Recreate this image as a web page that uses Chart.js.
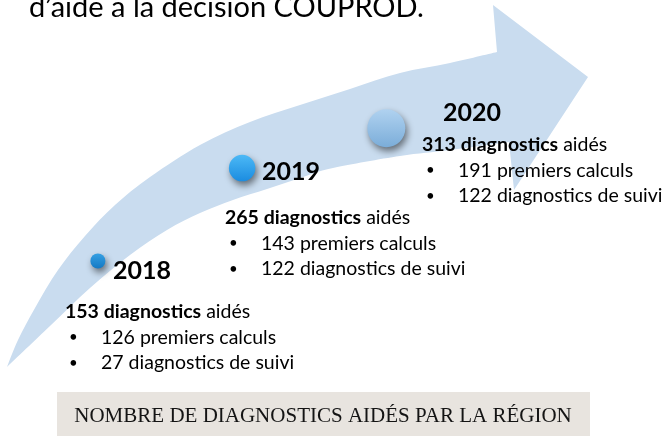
<!DOCTYPE html>
<html lang="fr">
<head>
<meta charset="utf-8">
<title>Nombre de diagnostics aidés par la région</title>
<script src="https://cdn.jsdelivr.net/npm/chart.js@4.4.1/dist/chart.umd.min.js"></script>
<style>
  html, body { margin: 0; padding: 0; background: #ffffff; }
  #wrap { position: relative; width: 663px; height: 436px; }
</style>
</head>
<body>
<div id="wrap"><canvas id="timeline"></canvas></div>
<script>
// data
const years = [2018, 2019, 2020];
const totalDiagnostics = [153, 265, 313];
const premiersCalculs = [126, 143, 191];
const diagnosticsSuivi = [27, 122, 122];

const titleText = 'd’aide à la décision COUPROD.';
const bannerText = 'NOMBRE DE DIAGNOSTICS AIDÉS PAR LA RÉGION';

// layout (pixels) for the annotations
const yearLabelPos = [[113, 271], [262, 172], [443, 113]];
const blockPos = [[65, 312], [225, 218], [422, 145]];
const lineGap = 25.5;

const dotStops = [
  ['#35a0e3', '#1479c4'],
  ['#4cb9f6', '#1b8ce0'],
  ['#b0d2f0', '#7badd9']
];

const sansFont = '"Lato", "Open Sans", sans-serif';

// background curved arrow, drawn as decoration behind the points
const arrowOuter = [[7,367],[18,340],[35,308],[58,270],[85,236],[115,205],[150,177],[200,145],[250,122],[300,105],[350,89],[400,73],[450,63],[497,52]];
const arrowHead = [[493,5],[588,77],[514,190],[509,142]];
const arrowInner = [[509,142],[450,150],[400,156],[333,168],[300,178],[267,189],[233,200],[200,213],[167,230],[130,255],[90,288],[50,326],[7,367]];

function smoothThrough(ctx, pts) {
  for (let i = 0; i < pts.length - 1; i++) {
    const p0 = pts[i - 1] || pts[i];
    const p1 = pts[i];
    const p2 = pts[i + 1];
    const p3 = pts[i + 2] || p2;
    ctx.bezierCurveTo(
      p1[0] + (p2[0] - p0[0]) / 6, p1[1] + (p2[1] - p0[1]) / 6,
      p2[0] - (p3[0] - p1[0]) / 6, p2[1] - (p3[1] - p1[1]) / 6,
      p2[0], p2[1]);
  }
}

function dotRadius(i) {
  return 7.5 + 5.75 * i;
}

function dotFill(c) {
  const stops = dotStops[c.dataIndex] || dotStops[0];
  const chart = c.chart;
  const yScale = chart.scales && chart.scales.y;
  if (c.type !== 'data' || !yScale || !c.raw) return stops[1];
  const y = yScale.getPixelForValue(c.raw.y);
  if (!isFinite(y)) return stops[1];
  const r = dotRadius(c.dataIndex);
  const g = chart.ctx.createLinearGradient(0, y - r, 0, y + r);
  g.addColorStop(0, stops[0]);
  g.addColorStop(1, stops[1]);
  return g;
}

const arrowPlugin = {
  id: 'arrowBackground',
  beforeDatasetsDraw(chart) {
    const ctx = chart.ctx;
    ctx.save();
    ctx.fillStyle = '#c9dcef';
    ctx.beginPath();
    ctx.moveTo(arrowOuter[0][0], arrowOuter[0][1]);
    smoothThrough(ctx, arrowOuter);
    arrowHead.forEach(p => ctx.lineTo(p[0], p[1]));
    smoothThrough(ctx, arrowInner);
    ctx.closePath();
    ctx.fill();
    ctx.restore();
    // soft drop shadow for the dots
    ctx.save();
    ctx.shadowColor = 'rgba(0, 0, 0, 0.5)';
    ctx.shadowBlur = 7;
    ctx.shadowOffsetX = 2;
    ctx.shadowOffsetY = 4;
  },
  afterDatasetsDraw(chart) {
    chart.ctx.restore();
  }
};

function mixedLine(ctx, x, y, boldPart, rest, size) {
  ctx.font = 'bold ' + size + 'px ' + sansFont;
  ctx.fillText(boldPart, x, y);
  const w = ctx.measureText(boldPart).width;
  ctx.font = size + 'px ' + sansFont;
  ctx.fillText(rest, x + w, y);
}

const textPlugin = {
  id: 'timelineText',
  afterDraw(chart) {
    const ctx = chart.ctx;
    ctx.save();
    ctx.fillStyle = '#000000';

    // title cut by the top edge
    ctx.textBaseline = 'alphabetic';
    ctx.font = '29px ' + sansFont;
    ctx.fillText(titleText, 29, 17);

    ctx.textBaseline = 'middle';
    years.forEach((yr, i) => {
      ctx.font = 'bold 25px ' + sansFont;
      ctx.fillText(String(yr), yearLabelPos[i][0], yearLabelPos[i][1]);

      const bx = blockPos[i][0];
      const by = blockPos[i][1];
      mixedLine(ctx, bx, by, totalDiagnostics[i] + ' diagnostics', ' aidés', 19.5);
      ctx.font = '15px ' + sansFont;
      ctx.fillText('•', bx + 4, by + lineGap);
      ctx.fillText('•', bx + 4, by + lineGap * 2);
      ctx.font = '19.5px ' + sansFont;
      ctx.fillText(premiersCalculs[i] + ' premiers calculs', bx + 36, by + lineGap);
      ctx.fillText(diagnosticsSuivi[i] + ' diagnostics de suivi', bx + 36, by + lineGap * 2);
    });

    // caption banner
    ctx.fillStyle = '#e8e4df';
    ctx.fillRect(57, 392, 533, 44);
    ctx.fillStyle = '#141414';
    ctx.textAlign = 'center';
    ctx.textBaseline = 'alphabetic';
    ctx.font = '21px "Liberation Serif", "Times New Roman", serif';
    ctx.fillText(bannerText, 323, 422);
    ctx.restore();
  }
};

new Chart(document.getElementById('timeline'), {
  type: 'scatter',
  data: {
    datasets: [{
      label: 'Diagnostics aidés',
      data: years.map((yr, i) => ({ x: yr, y: totalDiagnostics[i] })),
      pointRadius: c => dotRadius(c.dataIndex),
      pointHoverRadius: c => dotRadius(c.dataIndex),
      backgroundColor: dotFill,
      hoverBackgroundColor: dotFill,
      borderWidth: 0,
      hoverBorderWidth: 0
    }]
  },
  options: {
    responsive: true,
    maintainAspectRatio: false,
    animation: false,
    events: [],
    layout: { padding: 0 },
    plugins: {
      legend: { display: false },
      tooltip: { enabled: false }
    },
    scales: {
      x: { type: 'linear', display: false, min: 2017.4531, max: 2021.7864 },
      y: { type: 'linear', display: false, min: -35.28, max: 444.79 }
    }
  },
  plugins: [arrowPlugin, textPlugin]
});
</script>
</body>
</html>
